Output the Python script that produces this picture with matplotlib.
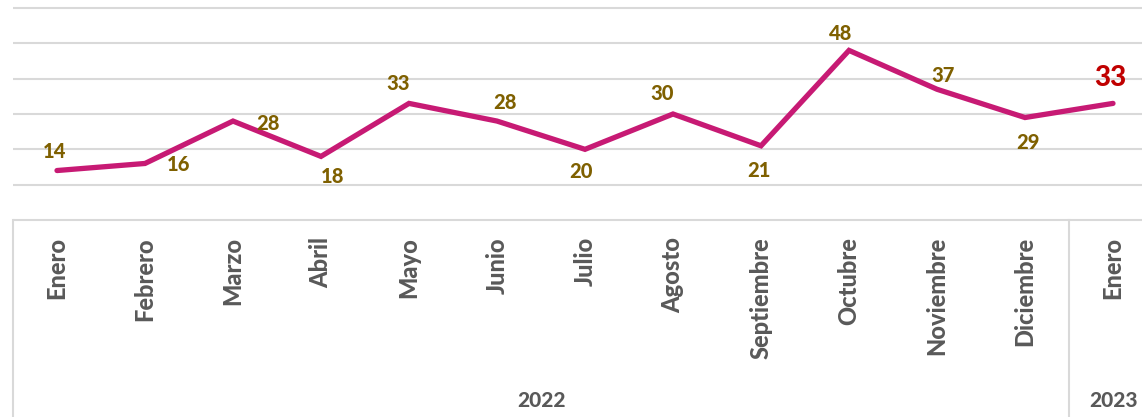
import matplotlib
matplotlib.use("Agg")
import matplotlib.pyplot as plt
from matplotlib.lines import Line2D

# ---- data ----
months = ["Enero", "Febrero", "Marzo", "Abril", "Mayo", "Junio", "Julio",
          "Agosto", "Septiembre", "Octubre", "Noviembre", "Diciembre", "Enero"]
years = ["2022", "2023"]
year_spans = [(0, 11), (12, 12)]
values = [14, 16, 28, 18, 33, 28, 20, 30, 21, 48, 37, 29, 33]

# label offsets in pixels (dx, dy)
offsets = [(-2, 19), (34, -1), (35, -2), (12, -20), (-11, 20), (8, 19), (-4, -22),
           (-11, 20), (-2, -25), (-8, 17), (6, 14), (3, -25), (-3, 25)]

W, H = 1142, 417
fig = plt.figure(figsize=(W / 100, H / 100), dpi=100)
fam = ["Lato", "DejaVu Sans"]
WEIGHT = 900

left_px, top_px, bottom_px = 13, 8, 220
cat_w = 88
n = len(months)
ax = fig.add_axes([left_px / W, (H - bottom_px) / H, cat_w * n / W, (bottom_px - top_px) / H])
ax.set_xlim(-0.5, n - 0.5)
ax.set_ylim(0, 60)
ax.axis("off")

grid_c = "#D9D9D9"
ax.hlines([10, 20, 30, 40, 50, 60], -0.5, n - 0.5, colors=grid_c, linewidth=1.5,
          clip_on=False, zorder=1)
ax.hlines([0], -0.5, n - 0.5, colors=grid_c, linewidth=1.5, clip_on=False, zorder=1)

x = list(range(n))
ax.plot(x, values, color="#C71A74", linewidth=3.8, solid_joinstyle="miter",
        solid_capstyle="round", zorder=3)

for i, v in enumerate(values):
    dx, dy = offsets[i]
    last = i == n - 1
    ax.annotate(str(v), (i, v), xytext=(dx, dy), textcoords="offset pixels",
                ha="center", va="center", fontsize=20 if last else 14.5,
                fontweight=WEIGHT, color="#C00000" if last else "#7F6000",
                family=fam, zorder=4)

# category axis box
tr = ax.get_xaxis_transform()
plot_h = bottom_px - top_px
def yf(px):
    return (bottom_px - px) / plot_h

for xb in [-0.5, 11.5]:
    ax.add_line(Line2D([xb, xb], [0, yf(H + 2)], transform=tr, color=grid_c,
                       linewidth=1.5, clip_on=False))

for i, m in enumerate(months):
    ax.text(i, yf(237), m, transform=tr, rotation=90, ha="center", va="top",
            fontsize=17, fontweight=WEIGHT, color="#595959", family=fam)

for yr, (a, b) in zip(years, year_spans):
    ax.text((a + b) / 2, yf(401), yr, transform=tr, ha="center", va="center",
            fontsize=15, fontweight=WEIGHT, color="#595959", family=fam)

fig.savefig("out.png", dpi=100)
